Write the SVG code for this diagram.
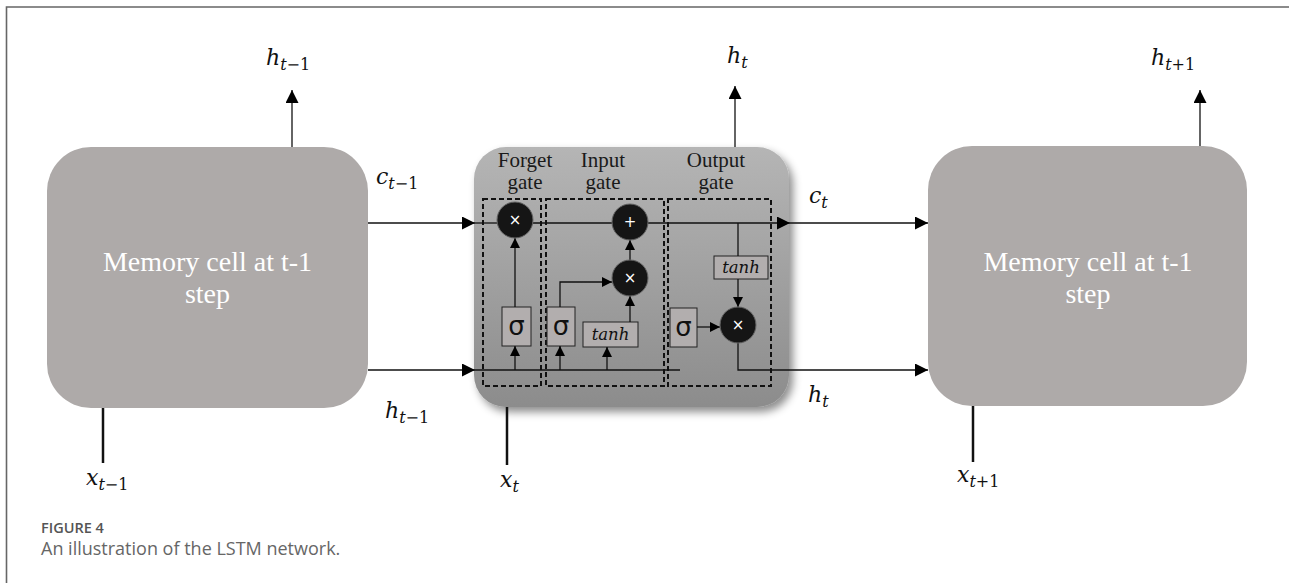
<svg xmlns="http://www.w3.org/2000/svg" width="1289" height="583" viewBox="0 0 1289 583">
<style>
.cell{fill:#aeaaa9}
.ct{font-family:"Liberation Serif",serif;font-size:28px;fill:#ffffff;text-anchor:middle}
.m{font-family:"DejaVu Serif",serif;font-style:italic;font-size:22px;fill:#111}
.sb{font-size:16px}
.up{font-style:normal;font-size:16px}
.gl{font-family:"Liberation Serif",serif;font-size:21px;fill:#1a1a1a;text-anchor:middle}
.ln{fill:none;stroke:#111;stroke-width:1.3}
.thick{fill:none;stroke:#111;stroke-width:2.5}
.dash{fill:none;stroke:#111;stroke-width:2;stroke-dasharray:5 3}
.op{fill:#151515;stroke:#666;stroke-width:1}
.sym{font-family:"DejaVu Sans",sans-serif;font-size:15px;fill:#fff;text-anchor:middle}
.bx{fill:#b2aeae;stroke:#222;stroke-width:1}
.sg{font-family:"DejaVu Sans",sans-serif;font-size:26px;fill:#111;text-anchor:middle}
.th{font-family:"DejaVu Serif",serif;font-style:italic;font-size:16.5px;fill:#111;text-anchor:middle}
.cap1{font-family:"Open Sans",sans-serif;font-weight:600;font-size:14.5px;fill:#555}
.cap2{font-family:"Open Sans",sans-serif;font-size:18px;fill:#666}
</style>
<defs>
<marker id="a" viewBox="0 0 10 10" refX="10" refY="5" markerWidth="13" markerHeight="13" markerUnits="userSpaceOnUse" orient="auto"><path d="M0,0 L10,5 L0,10 z" fill="#000"/></marker>
<marker id="s" viewBox="0 0 10 10" refX="10" refY="5" markerWidth="10" markerHeight="10" markerUnits="userSpaceOnUse" orient="auto"><path d="M0,0 L10,5 L0,10 z" fill="#000"/></marker>
<linearGradient id="g" x1="0" y1="0" x2="0" y2="1"><stop offset="0" stop-color="#b5b5b5"/><stop offset="1" stop-color="#8c8c8c"/></linearGradient>
<filter id="sh" x="-10%" y="-10%" width="125%" height="125%"><feDropShadow dx="4" dy="5" stdDeviation="4" flood-color="#000" flood-opacity="0.45"/></filter>
</defs>
<rect width="1289" height="583" fill="#fff"/>
<path d="M6.5,583 V7 H1289" fill="none" stroke="#666" stroke-width="1.6"/>

<g id="cell-prev">
<rect class="cell" x="47" y="147" width="321" height="261" rx="44"/>
<text class="ct" x="207.5" y="271">Memory cell at t-1</text>
<text class="ct" x="207.5" y="303">step</text>
</g>

<g id="cell-next">
<rect class="cell" x="928" y="146" width="319" height="260" rx="44"/>
<text class="ct" x="1088" y="271">Memory cell at t-1</text>
<text class="ct" x="1088" y="303">step</text>
</g>

<g id="lstm-cell">
<rect x="474" y="147" width="315" height="260" rx="32" fill="url(#g)" filter="url(#sh)"/>
<text class="gl" x="525" y="167">Forget</text>
<text class="gl" x="525" y="189">gate</text>
<text class="gl" x="603" y="167">Input</text>
<text class="gl" x="603" y="189">gate</text>
<text class="gl" x="716" y="167">Output</text>
<text class="gl" x="716" y="189">gate</text>
</g>

<g id="forget-gate">
<rect class="dash" x="483" y="199" width="58" height="187"/>
<rect class="bx" x="502" y="307" width="29" height="39"/>
<text class="sg" x="516.5" y="335">σ</text>
</g>

<g id="input-gate">
<rect class="dash" x="546" y="199" width="118" height="187"/>
<rect class="bx" x="547" y="307" width="28" height="39"/>
<text class="sg" x="561" y="335">σ</text>
<rect class="bx" x="583" y="322" width="55" height="25"/>
<text class="th" x="610.5" y="340">tanh</text>
</g>

<g id="output-gate">
<rect class="dash" x="668" y="199" width="103" height="187"/>
<rect class="bx" x="670" y="308" width="27" height="39"/>
<text class="sg" x="683.5" y="336">σ</text>
<rect class="bx" x="714" y="256" width="54" height="23"/>
<text class="th" x="741" y="273">tanh</text>
</g>

<g id="connectors">
<path class="ln" d="M368,223 H475" marker-end="url(#a)"/>
<path class="ln" d="M475,223 H497"/>
<path class="ln" d="M533,223 H612"/>
<path class="ln" d="M648,223 H790" marker-end="url(#a)"/>
<path class="ln" d="M790,223 H928" marker-end="url(#a)"/>
<path class="ln" d="M368,370 H475" marker-end="url(#a)"/>
<path class="ln" d="M475,370 H680"/>
<path class="ln" d="M738,343 V370 H928" marker-end="url(#a)"/>
<path class="ln" d="M292,147 V90" marker-end="url(#a)"/>
<path class="ln" d="M735,147 V86" marker-end="url(#a)"/>
<path class="ln" d="M1200,146 V90" marker-end="url(#a)"/>
<path class="thick" d="M103,408 V463"/>
<path class="thick" d="M507,407 V465"/>
<path class="thick" d="M973,406 V462"/>
<path class="ln" d="M515,370 V346" marker-end="url(#s)"/>
<path class="ln" d="M515,307 V238" marker-end="url(#s)"/>
<path class="ln" d="M560,370 V346" marker-end="url(#s)"/>
<path class="ln" d="M560,307 V282 H612" marker-end="url(#s)"/>
<path class="ln" d="M607,370 V347" marker-end="url(#s)"/>
<path class="ln" d="M630,322 V296" marker-end="url(#s)"/>
<path class="ln" d="M630,260 V240" marker-end="url(#s)"/>
<path class="ln" d="M738,223 V256"/>
<path class="ln" d="M738,279 V307" marker-end="url(#s)"/>
<path class="ln" d="M697,327 H720" marker-end="url(#s)"/>
</g>

<g id="ops">
<circle class="op" cx="515" cy="220" r="18"/><text class="sym" x="515" y="225">×</text>
<circle class="op" cx="630" cy="222" r="18"/><text class="sym" x="630" y="227">+</text>
<circle class="op" cx="630" cy="278" r="18"/><text class="sym" x="630" y="283">×</text>
<circle class="op" cx="738" cy="325" r="18"/><text class="sym" x="738" y="330">×</text>
</g>

<g id="labels">
<text class="m" x="266" y="65">h<tspan class="sb" dy="5">t</tspan><tspan class="up">−1</tspan></text>
<text class="m" x="727" y="63">h<tspan class="sb" dy="5">t</tspan></text>
<text class="m" x="1151" y="65">h<tspan class="sb" dy="5">t</tspan><tspan class="up">+1</tspan></text>
<text class="m" x="376" y="184">c<tspan class="sb" dy="5">t</tspan><tspan class="up">−1</tspan></text>
<text class="m" x="809" y="203">c<tspan class="sb" dy="5">t</tspan></text>
<text class="m" x="385" y="418">h<tspan class="sb" dy="5">t</tspan><tspan class="up">−1</tspan></text>
<text class="m" x="808" y="402">h<tspan class="sb" dy="5">t</tspan></text>
<text class="m" x="86" y="485">x<tspan class="sb" dy="5">t</tspan><tspan class="up">−1</tspan></text>
<text class="m" x="500" y="487">x<tspan class="sb" dy="5">t</tspan></text>
<text class="m" x="957" y="482">x<tspan class="sb" dy="5">t</tspan><tspan class="up">+1</tspan></text>
</g>

<g id="caption">
<text class="cap1" x="41" y="533">FIGURE 4</text>
<text class="cap2" x="41" y="555">An illustration of the LSTM network.</text>
</g>
</svg>
